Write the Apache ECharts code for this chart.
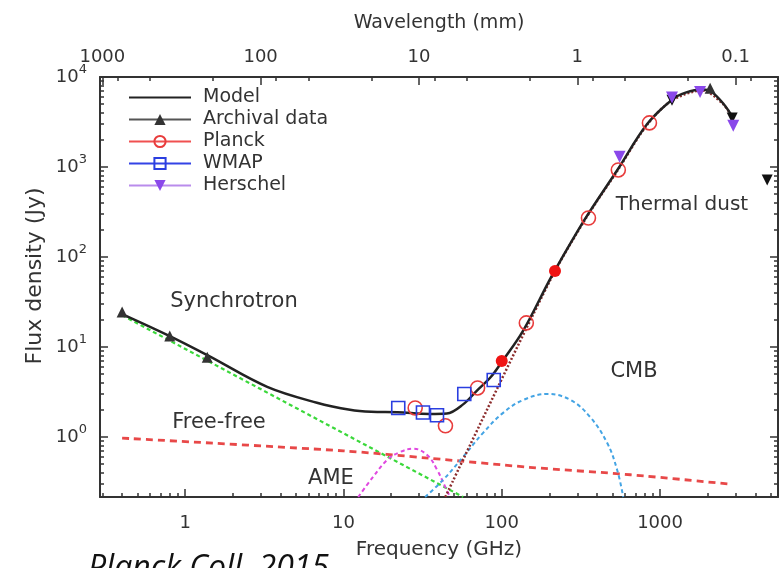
<!DOCTYPE html>
<html><head><meta charset="utf-8">
<script src="https://cdn.jsdelivr.net/npm/echarts@6/dist/echarts.min.js"></script>
<style>html,body{margin:0;padding:0;background:#fff}#c{width:784px;height:568px}</style>
</head><body><div id="c"></div>
<script>
// ---- axis ranges & ticks ----
const FREQ_MIN = 0.29, FREQ_MAX = 5560;      // GHz
const FLUX_MIN = 0.215, FLUX_MAX = 10000;    // Jy
const C_MM_GHZ = 300;                         // wavelength(mm) = 300 / freq(GHz)
const freqMajor = [1, 10, 100, 1000];
const freqMinor = [0.3,0.4,0.5,0.6,0.7,0.8,0.9, 2,3,4,5,6,7,8,9, 20,30,40,50,60,70,80,90, 200,300,400,500,600,700,800,900, 2000,3000,4000,5000];
const waveMajor = [1000, 100, 10, 1, 0.1];
const waveMinor = [800,500,200, 80,50,20, 8,5,2, 0.8,0.5,0.2, 0.08];
const fluxMajor = [1, 10, 100, 1000, 10000];
const fluxMinor = [0.3,0.4,0.5,0.6,0.7,0.8,0.9, 2,3,4,5,6,7,8,9, 20,30,40,50,60,70,80,90, 200,300,400,500,600,700,800,900, 2000,3000,4000,5000,6000,7000,8000,9000];

// ---- model & components [freq GHz, flux Jy] ----
const model = [[0.4,23.2],[0.8,13.2],[1.4,8.0],[3.3,3.6],[6.8,2.4],[11,2.0],[15,1.9],[22,1.88],[35,1.8],[45,1.82],[57,2.3],[70,3.3],[85,4.6],[100,6.8],[136,15],[200,55],[234,90],[336,265],[536,920],[829,3000],[1190,5600],[1450,6700],[1850,7250],[2100,6900],[2500,5100],[2900,3500]];
const synchrotron = [[0.4,22.5],[57,0.215]];
const freeFree = [[0.4,0.97],[10,0.70],[35,0.58],[150,0.46],[650,0.38],[2700,0.30]];
const ame = [[12.4,0.215],[15.4,0.36],[18.9,0.555],[22.8,0.68],[27.6,0.74],[33.8,0.63],[39.1,0.43],[43.9,0.28],[47.2,0.215]];
const cmb = [[32.8,0.215],[42.6,0.333],[57,0.60],[76.3,1.11],[102,1.85],[137,2.58],[194,3.0],[271,2.58],[361,1.67],[463,0.86],[536,0.43],[585,0.215]];
const dust = [[44,0.215],[200,53],[336,260],[536,900],[829,2950],[1190,5500],[1850,7100],[2500,5000],[2900,3450]];

// ---- measurements ----
const archival = [[0.40,24.4],[0.80,13.2],[1.38,7.7],[2071,7500]];
const archivalFilled = [[1190,5500],[2856,3500],[4750,717]];
const planck = [[28.4,2.1],[44.1,1.33],[70.4,3.5],[143,18.5],[353,271],[545,926],[857,3090]];
const planckFilled = [[100,7.0],[217,70]];
const wmap = [[22.2,2.1],[31.8,1.87],[39,1.74],[58,3.0],[89,4.3]];
const herschel = [[555,1300],[1190,5900],[1790,6800],[2900,2880]];

const FONT = 'DejaVu Sans';
const INK = '#333';
const axisLineStyle = {color: INK, width: 2};
const tickStyle = {color: INK, width: 1.5};

function xAx(o){ return Object.assign({type:'log', splitLine:{show:false}, axisPointer:{show:false}}, o); }

const chart = echarts.init(document.getElementById('c'), null, {renderer:'canvas'});

const line = (name, data, style, extra) => Object.assign({
  type:'line', name, data, symbol:'none', silent:true, animation:false,
  itemStyle:{color: style.color}, lineStyle: style, z: 2
}, extra || {});
const pts = (name, data, symbol, size, itemStyle, extra) => Object.assign({
  type:'line', name, data, symbol, symbolSize:size, itemStyle,
  lineStyle:{opacity:0, width:0}, silent:true, animation:false, z: 5
}, extra || {});

chart.setOption({
  animation: false,
  backgroundColor: '#fff',
  grid: {left:100, right:6, top:77, bottom:71, containLabel:false},
  legend: {
    orient:'vertical', left:128, top:88, itemWidth:62, itemHeight:14, itemGap:3, padding:0,
    textStyle:{fontFamily:FONT, fontSize:19, color:INK, padding:[0,0,0,7]},
    selectedMode:false,
    data:[
      {name:'Model', itemStyle:{opacity:0}},
      {name:'Archival data', lineStyle:{opacity:1, width:2, color:'#555'}},
      {name:'Planck', lineStyle:{opacity:1, width:2, color:'#f05050'}},
      {name:'WMAP', lineStyle:{opacity:1, width:2, color:'#3343e6'}},
      {name:'Herschel', lineStyle:{opacity:1, width:2, color:'#b98cec'}}
    ]
  },
  xAxis: [
    xAx({position:'bottom', min:FREQ_MIN, max:FREQ_MAX,
      name:'Frequency (GHz)', nameLocation:'middle', nameGap:43,
      nameTextStyle:{fontFamily:FONT, fontSize:20, color:INK},
      axisLine:{show:true, lineStyle:axisLineStyle},
      axisTick:{show:true, inside:true, length:8, customValues:freqMajor, lineStyle:tickStyle},
      axisLabel:{show:true, customValues:freqMajor, margin:17, fontFamily:FONT, fontSize:18, color:INK, formatter:v=>String(+(+v).toPrecision(4))}}),
    xAx({position:'top', inverse:true, min:C_MM_GHZ/FREQ_MAX, max:C_MM_GHZ/FREQ_MIN,
      name:'Wavelength (mm)', nameLocation:'middle', nameGap:44,
      nameTextStyle:{fontFamily:FONT, fontSize:19, color:INK},
      axisLine:{show:true, lineStyle:axisLineStyle},
      axisTick:{show:true, inside:true, length:8, customValues:waveMajor, lineStyle:tickStyle},
      axisLabel:{show:true, customValues:waveMajor, margin:11, fontFamily:FONT, fontSize:18, color:INK, formatter:v=>String(+(+v).toPrecision(4))}}),
    xAx({position:'bottom', min:FREQ_MIN, max:FREQ_MAX,
      axisLine:{show:false}, axisLabel:{show:false},
      axisTick:{show:true, inside:true, length:4, customValues:freqMinor, lineStyle:tickStyle}}),
    xAx({position:'top', inverse:true, min:C_MM_GHZ/FREQ_MAX, max:C_MM_GHZ/FREQ_MIN,
      axisLine:{show:false}, axisLabel:{show:false},
      axisTick:{show:true, inside:true, length:4, customValues:waveMinor, lineStyle:tickStyle}})
  ],
  yAxis: [
    xAx({position:'left', min:FLUX_MIN, max:FLUX_MAX,
      axisLine:{show:true, lineStyle:axisLineStyle},
      axisTick:{show:true, inside:true, length:8, customValues:fluxMajor, lineStyle:tickStyle},
      axisLabel:{show:true, customValues:fluxMajor, margin:13,
        formatter:v=>'{b|10}{s|' + Math.round(Math.log10(v)) + '}',
        rich:{
          b:{fontFamily:FONT, fontSize:18, color:INK, lineHeight:28},
          s:{fontFamily:FONT, fontSize:13, color:INK, verticalAlign:'top', lineHeight:14}
        }}}),
    xAx({position:'right', min:FLUX_MIN, max:FLUX_MAX,
      axisLine:{show:true, lineStyle:axisLineStyle}, axisLabel:{show:false},
      axisTick:{show:true, inside:true, length:8, customValues:fluxMajor, lineStyle:tickStyle}}),
    xAx({position:'left', min:FLUX_MIN, max:FLUX_MAX,
      axisLine:{show:false}, axisLabel:{show:false},
      axisTick:{show:true, inside:true, length:4, customValues:fluxMinor, lineStyle:tickStyle}}),
    xAx({position:'right', min:FLUX_MIN, max:FLUX_MAX,
      axisLine:{show:false}, axisLabel:{show:false},
      axisTick:{show:true, inside:true, length:4, customValues:fluxMinor, lineStyle:tickStyle}})
  ],
  series: [
    line('Synchrotron', synchrotron, {color:'#3ad83a', width:2.2, type:[4,3]}),
    line('Free-free', freeFree, {color:'#e84848', width:2.8, type:[7,5]}, {smooth:0.3}),
    line('AME', ame, {color:'#e048e0', width:2, type:[4,3]}, {smooth:0.4}),
    line('CMB', cmb, {color:'#44a4e4', width:2, type:[4,3]}, {smooth:0.4}),
    line('Thermal dust', dust, {color:'#8c2c2c', width:2.5, type:[2,2]}, {smooth:0.3}),
    line('Model', model, {color:'#222', width:2.5}, {smooth:0.35, z:3}),
    pts('Archival data', archival, 'triangle', 11, {color:'#333'}),
    pts('Archival (filled)', archivalFilled, 'triangle', 11, {color:'#111'}, {symbolRotate:180}),
    pts('Planck', planck, 'circle', 14, {color:'rgba(255,255,255,0)', borderColor:'#e83c3c', borderWidth:1.6}),
    pts('Planck (filled)', planckFilled, 'circle', 12, {color:'#f01414'}),
    pts('WMAP', wmap, 'rect', 13, {color:'rgba(255,255,255,0)', borderColor:'#2a3ee0', borderWidth:1.6}),
    pts('Herschel', herschel, 'triangle', 12, {color:'#8a48ea'}, {symbolRotate:180})
  ],
  graphic: [
    {type:'text', x:35, y:276, rotation:Math.PI/2, style:{text:'Flux density (Jy)', fontFamily:FONT, fontSize:22, fill:INK, align:'center', verticalAlign:'middle'}},
    {type:'text', x:234, y:302, style:{text:'Synchrotron', fontFamily:FONT, fontSize:21, fill:INK, align:'center', verticalAlign:'middle'}},
    {type:'text', x:219, y:423, style:{text:'Free-free', fontFamily:FONT, fontSize:21, fill:INK, align:'center', verticalAlign:'middle'}},
    {type:'text', x:331, y:479, style:{text:'AME', fontFamily:FONT, fontSize:21, fill:INK, align:'center', verticalAlign:'middle'}},
    {type:'text', x:634, y:372, style:{text:'CMB', fontFamily:FONT, fontSize:21, fill:INK, align:'center', verticalAlign:'middle'}},
    {type:'text', x:682, y:205, style:{text:'Thermal dust', fontFamily:FONT, fontSize:20, fill:INK, align:'center', verticalAlign:'middle'}},
    {type:'text', x:88, y:569, style:{text:'Planck Coll. 2015', fontFamily:'Open Sans', fontStyle:'italic', fontSize:32, fill:'#111', align:'left', verticalAlign:'middle'}}
  ]
});
</script></body></html>
